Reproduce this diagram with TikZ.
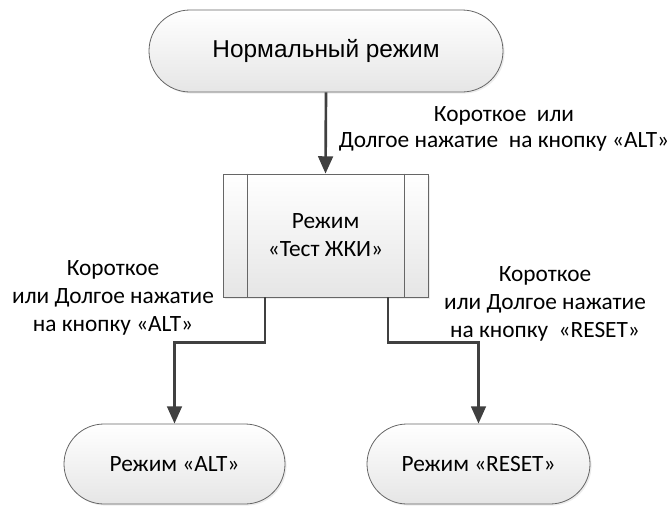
\documentclass[tikz,border=0pt]{standalone}
\usepackage{fontspec}
\setmainfont{Carlito}
\newfontfamily\arialfont{Liberation Sans}
\usetikzlibrary{arrows.meta,shapes.misc,shadows}

\tikzset{
  box/.style={draw=black!60, line width=0.6pt, top color=white, bottom color=black!10,
    drop shadow={opacity=0.15, shadow xshift=1.2pt, shadow yshift=-1.2pt}},
  term/.style={box, rounded rectangle, inner sep=0pt, font=\fontsize{17.5}{21}\selectfont},
  subproc/.style={box, rectangle, minimum width=153.75pt, minimum height=92.25pt,
    align=center, font=\fontsize{17.5}{21}\selectfont},
  subline/.style={draw=black!60, line width=0.6pt},
  flow/.style={draw=black!75, line width=2pt, -{Triangle[width=11pt,length=13pt]}},
  note/.style={align=center, font=\fontsize{17.5}{21}\selectfont}
}

\begin{document}
\begin{tikzpicture}[x=0.75pt,y=-0.75pt]
    \useasboundingbox (0,0) rectangle (670,507);

    \node[term, minimum width=265.5pt, minimum height=61.5pt, font=\arialfont\fontsize{18.3}{21}\selectfont] (normal) at (326,51) {Нормальный режим};
    \node[subproc] (lcd) at (325.5,235.5) {Режим\\«Тест ЖКИ»};
    \node[term, minimum width=165.75pt, minimum height=60pt] (alt) at (174.5,464) {Режим «ALT»};
    \node[term, minimum width=167.25pt, minimum height=60pt] (reset) at (478.5,464) {Режим «RESET»};

    \draw[subline] ([xshift=18.75pt]lcd.north west) -- ([xshift=18.75pt]lcd.south west);
    \draw[subline] ([xshift=-18pt]lcd.north east) -- ([xshift=-18pt]lcd.south east);

    \draw[flow] (normal.south) -- (lcd.north);
    \draw[flow] ([xshift=-45.4pt]lcd.south) -- ++(0,45) -| (alt.north);
    \draw[flow] ([xshift=46.9pt]lcd.south) -- ++(0,45) -| (reset.north);

    \node[note, font=\fontsize{17.5}{19}\selectfont] (toplbl) at (504,129) {Короткое\ \ или\\Долгое нажатие\ \ на кнопку «ALT»};
    \node[note] (altlbl) at (113,298) {Короткое\\или Долгое нажатие\\на кнопку «ALT»};
    \node[note] (resetlbl) at (545,304) {Короткое\\или Долгое нажатие\\на кнопку\ \ «RESET»};
\end{tikzpicture}
\end{document}
